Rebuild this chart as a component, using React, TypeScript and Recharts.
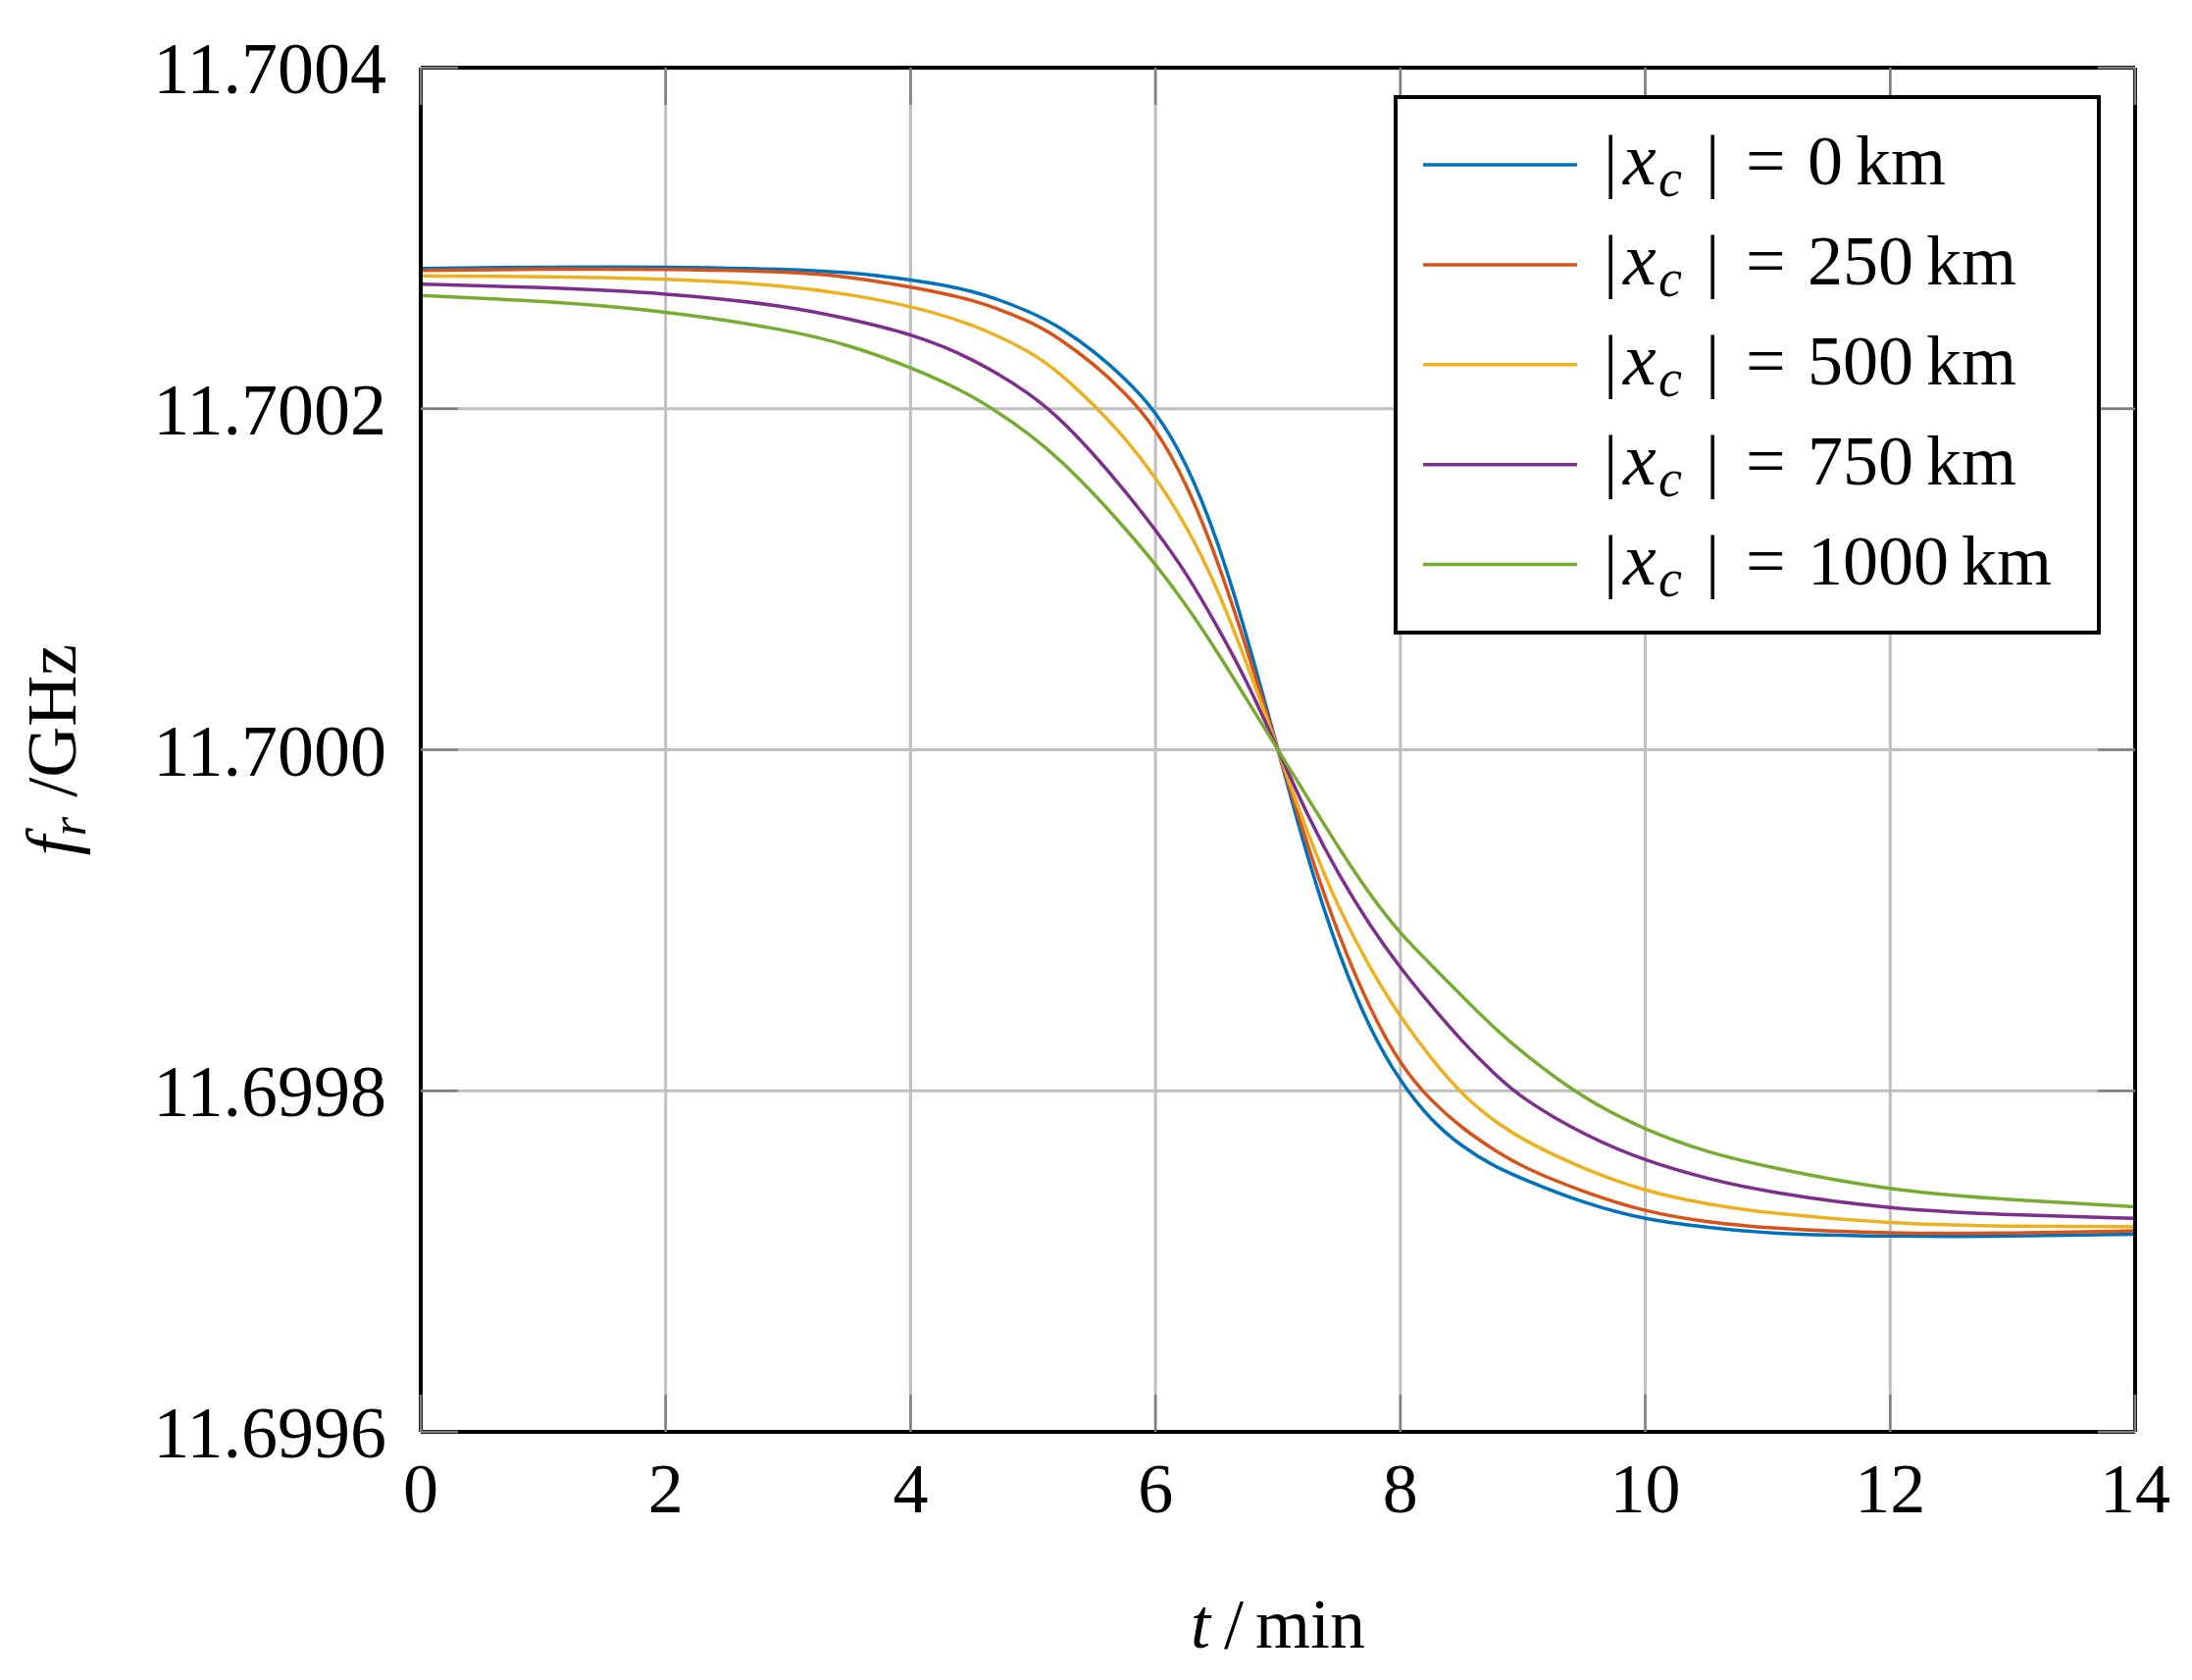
import React from "react";
import { LineChart, Line, XAxis, YAxis, CartesianGrid, Legend } from "recharts";

// time in minutes
const TIME_MIN = [
  0, 1, 2, 3, 3.5, 4, 4.5, 5, 5.25, 5.5, 5.75, 6, 6.25, 6.5, 6.75, 7, 7.25, 7.5, 7.75, 8, 8.25, 8.5,
  8.75, 9, 9.5, 10, 10.5, 11, 12, 13, 14,
];

// resonance frequency f_r in GHz for each |x_c|
const FR_0KM = [
  11.7002823, 11.7002831, 11.7002833, 11.7002819, 11.70028, 11.7002757, 11.70027, 11.7002565,
  11.7002465, 11.7002335, 11.700218, 11.700199, 11.700169, 11.700125, 11.700066, 11.7, 11.699934,
  11.699879, 11.699836, 11.699805, 11.6997826, 11.6997674, 11.6997563, 11.6997482, 11.699734,
  11.6997243, 11.69972, 11.6997161, 11.6997146, 11.6997146, 11.6997159,
];
const FR_250KM = [
  11.7002811, 11.7002819, 11.7002819, 11.7002804, 11.7002775, 11.7002715, 11.7002646, 11.7002508,
  11.7002395, 11.700226, 11.7002096, 11.700189, 11.700157, 11.700113, 11.7000585, 11.7, 11.6999415,
  11.69989, 11.699848, 11.699815, 11.699794, 11.6997783, 11.699766, 11.699755, 11.6997405,
  11.699729, 11.699723, 11.6997194, 11.6997161, 11.6997165, 11.6997179,
];
const FR_500KM = [
  11.7002779, 11.7002775, 11.7002764, 11.7002723, 11.700267, 11.7002604, 11.70025, 11.700233,
  11.700219, 11.700202, 11.700183, 11.70016, 11.700132, 11.700096, 11.70005, 11.7, 11.699949,
  11.699906, 11.699872, 11.699843, 11.699819, 11.699798, 11.699783, 11.699771, 11.699754,
  11.699741, 11.6997335, 11.6997282, 11.699722, 11.6997204, 11.6997204,
];
const FR_750KM = [
  11.7002731, 11.7002712, 11.7002679, 11.7002603, 11.7002526, 11.7002441, 11.70023, 11.700208,
  11.700192, 11.700173, 11.700152, 11.700129, 11.700104, 11.700073, 11.70004, 11.7, 11.69996,
  11.699926, 11.699897, 11.699872, 11.69985, 11.6998293, 11.699811, 11.699795, 11.699774,
  11.6997588, 11.6997485, 11.6997405, 11.6997305, 11.6997272, 11.6997252,
];
const FR_1000KM = [
  11.7002664, 11.7002632, 11.7002574, 11.7002463, 11.7002373, 11.7002245, 11.7002086, 11.700184,
  11.700168, 11.70015, 11.70013, 11.700109, 11.700085, 11.700058, 11.700029, 11.7, 11.699971,
  11.699942, 11.699915, 11.699892, 11.699874, 11.6998556, 11.699838, 11.699822, 11.699795,
  11.699777, 11.699764, 11.6997553, 11.6997414, 11.6997359, 11.699732,
];

const X_TICKS = [0, 2, 4, 6, 8, 10, 12, 14];
const Y_TICKS = [11.6996, 11.6998, 11.7, 11.7002, 11.7004];
const SERIES_LABELS = ["0", "250", "500", "750", "1000"];
const SERIES_COLORS = ["#0072BD", "#D95319", "#EDB120", "#7E2F8E", "#77AC30"];
const SERIES_VALUES = [FR_0KM, FR_250KM, FR_500KM, FR_750KM, FR_1000KM];

const data = TIME_MIN.map((t, i) => {
  const row: Record<string, number> = { t };
  SERIES_VALUES.forEach((vals, s) => {
    row["s" + s] = vals[i];
  });
  return row;
});

const FONT = "'Liberation Serif', 'Times New Roman', 'DejaVu Serif', serif";
const FS = 72;
const TICK_LEN = 38;
const TICK_COLOR = "#808080";
const FRAME = { stroke: "#000000", strokeWidth: 4 };

const LeftTick = (props: any) => {
  const { x, y, payload } = props;
  return (
    <g>
      <line x1={x} x2={x + TICK_LEN} y1={y} y2={y} stroke={TICK_COLOR} strokeWidth={2.5} />
      <text x={x - 35} y={y + 26} textAnchor="end" fontFamily={FONT} fontSize={74} fill="#000">
        {Number(payload.value).toFixed(4)}
      </text>
    </g>
  );
};

const RightTick = (props: any) => {
  const { x, y } = props;
  return <line x1={x - TICK_LEN} x2={x} y1={y} y2={y} stroke={TICK_COLOR} strokeWidth={2.5} />;
};

const BottomTick = (props: any) => {
  const { x, y, payload } = props;
  return (
    <g>
      <line x1={x} x2={x} y1={y} y2={y - TICK_LEN} stroke={TICK_COLOR} strokeWidth={2.5} />
      <text x={x} y={y + 82} textAnchor="middle" fontFamily={FONT} fontSize={FS} fill="#000">
        {payload.value}
      </text>
    </g>
  );
};

const TopTick = (props: any) => {
  const { x, y } = props;
  return <line x1={x} x2={x} y1={y} y2={y + TICK_LEN} stroke={TICK_COLOR} strokeWidth={2.5} />;
};

const XLabel = (props: any) => {
  const vb = props.viewBox || { x: 429, y: 1460, width: 1748, height: 253 };
  const cx = vb.x + vb.width / 2;
  return (
    <text x={cx} y={vb.y + 220} textAnchor="middle" fontFamily={FONT} fontSize={FS} fill="#000">
      <tspan fontStyle="italic">t</tspan>
      <tspan dx={14}>/</tspan>
      <tspan dx={12}>min</tspan>
    </text>
  );
};

const YLabel = (props: any) => {
  const vb = props.viewBox || { x: 0, y: 69, width: 429, height: 1391 };
  const cy = vb.y + vb.height / 2;
  const bx = 77;
  return (
    <text
      x={bx}
      y={cy}
      textAnchor="middle"
      fontFamily={FONT}
      fontSize={FS}
      fill="#000"
      transform={`rotate(-90, ${bx}, ${cy})`}
    >
      <tspan fontStyle="italic">f</tspan>
      <tspan fontStyle="italic" fontSize={50} dy={10}>r</tspan>
      <tspan dy={-10} dx={20}>/GHz</tspan>
    </text>
  );
};

const LegendBox = () => {
  const rowY = (i: number) => 73 + i * 101.9;
  return (
    <svg width={725} height={554} style={{ display: "block" }}>
      <rect x={4} y={4} width={717} height={546} fill="#ffffff" stroke="#000" strokeWidth={4} />
      {SERIES_LABELS.map((lab, i) => {
        const ly = rowY(i);
        const by = ly + 20;
        return (
          <g key={lab}>
            <line x1={32} x2={189} y1={ly} y2={ly} stroke={SERIES_COLORS[i]} strokeWidth={3.5} />
            <text fontFamily={FONT} fontSize={FS} fill="#000" y={by}>
              <tspan x={216}>|</tspan>
              <tspan x={236} fontStyle="italic" fontSize={76}>x</tspan>
              <tspan x={272} dy={12} fontStyle="italic" fontSize={54}>c</tspan>
              <tspan x={320} dy={-12}>|</tspan>
              <tspan x={361}>=</tspan>
              <tspan x={424}>{lab}</tspan>
              <tspan dx={13}>km</tspan>
            </text>
          </g>
        );
      })}
    </svg>
  );
};

export default function App() {
  return (
    <div style={{ position: "absolute", left: 0, top: 0, width: 2235, height: 1713, background: "#fff" }}>
      <LineChart width={2235} height={1713} data={data} margin={{ top: 0, right: 0, bottom: 0, left: 0 }}>
        <CartesianGrid
          stroke="#bfbfbf"
          strokeWidth={3}
          horizontalValues={Y_TICKS}
          verticalValues={X_TICKS}
        />
        <XAxis
          dataKey="t"
          type="number"
          domain={[0, 14]}
          ticks={X_TICKS}
          allowDataOverflow
          height={253}
          tickSize={0}
          tickMargin={0}
          tick={BottomTick}
          axisLine={FRAME}
          tickLine={false}
          interval={0}
          label={XLabel}
        />
        <XAxis
          xAxisId="top"
          orientation="top"
          dataKey="t"
          type="number"
          domain={[0, 14]}
          ticks={X_TICKS}
          allowDataOverflow
          height={69}
          tickSize={0}
          tickMargin={0}
          tick={TopTick}
          axisLine={FRAME}
          tickLine={false}
          interval={0}
        />
        <YAxis
          type="number"
          domain={[11.6996, 11.7004]}
          ticks={Y_TICKS}
          allowDataOverflow
          width={429}
          tickSize={0}
          tickMargin={0}
          tick={LeftTick}
          axisLine={FRAME}
          tickLine={false}
          interval={0}
          label={YLabel}
        />
        <YAxis
          yAxisId="right"
          orientation="right"
          type="number"
          domain={[11.6996, 11.7004]}
          ticks={Y_TICKS}
          allowDataOverflow
          width={58}
          tickSize={0}
          tickMargin={0}
          tick={RightTick}
          axisLine={FRAME}
          tickLine={false}
          interval={0}
        />
        {SERIES_LABELS.map((lab, i) => (
          <Line
            key={lab}
            type="basis"
            dataKey={"s" + i}
            name={`|x_c| = ${lab} km`}
            stroke={SERIES_COLORS[i]}
            strokeWidth={3.5}
            dot={false}
            activeDot={false}
            isAnimationActive={false}
          />
        ))}
        <Legend
          layout="horizontal"
          verticalAlign="middle"
          align="center"
          content={LegendBox}
          wrapperStyle={{ position: "absolute", left: 1419, top: 95, width: 725, height: 554 }}
        />
      </LineChart>
    </div>
  );
}
